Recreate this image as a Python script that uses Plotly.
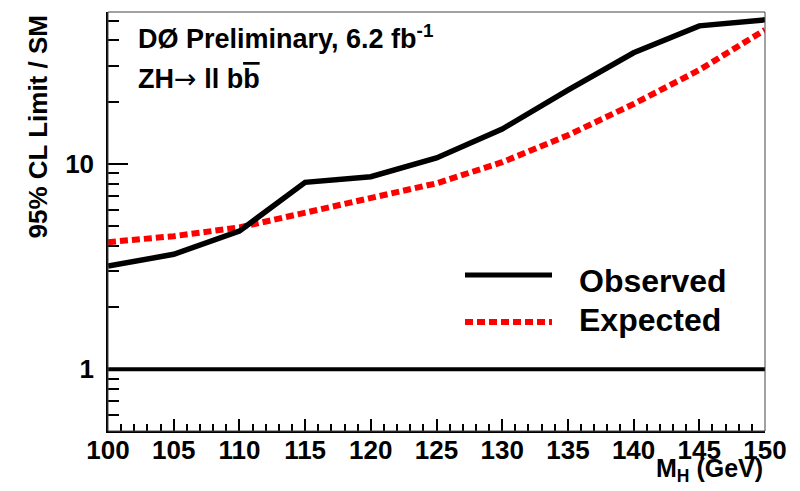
import plotly.graph_objects as go

# Higgs mass points (GeV) and 95% CL limits relative to the SM prediction
mass = [100, 105, 110, 115, 120, 125, 130, 135, 140, 145, 150]
observed = [3.18, 3.63, 4.71, 8.14, 8.67, 10.7, 14.8, 22.9, 34.8, 47.1, 50.4]
expected = [4.16, 4.45, 4.91, 5.79, 6.80, 8.05, 10.2, 13.8, 19.6, 28.7, 45.0]

x_major = list(range(100, 151, 5))
x_minor = list(range(100, 151, 1))
y_major = [1, 10]
y_major_text = ["1", "10"]
y_minor = [0.6, 0.7, 0.8, 0.9, 2, 3, 4, 5, 6, 7, 8, 9, 20, 30, 40, 50]
sm_line = [1, 1]

FONT = "Liberation Sans, Arial, Helvetica, sans-serif"
RED = "#ff0000"

fig = go.Figure()

# SM reference line at limit / SM = 1
fig.add_trace(go.Scatter(x=[mass[0], mass[-1]], y=sm_line, mode="lines",
                         line=dict(color="black", width=4), showlegend=False,
                         hoverinfo="skip"))
fig.add_trace(go.Scatter(x=mass, y=expected, mode="lines", name="Expected",
                         line=dict(color=RED, width=6, dash="8px,4px"),
                         showlegend=False))
fig.add_trace(go.Scatter(x=mass, y=observed, mode="lines", name="Observed",
                         line=dict(color="black", width=5.5), showlegend=False))

# Custom legend: line samples plus labels
fig.add_shape(type="line", xref="paper", yref="paper",
              x0=(465 - 108) / 657, x1=(552 - 108) / 657,
              y0=(431 - 275) / 419, y1=(431 - 275) / 419,
              line=dict(color="black", width=5))
fig.add_shape(type="line", xref="paper", yref="paper",
              x0=(465 - 108) / 657, x1=(552 - 108) / 657,
              y0=(431 - 322) / 419, y1=(431 - 322) / 419,
              line=dict(color=RED, width=6, dash="8px,4px"))

# Frame on top and right
fig.add_shape(type="rect", xref="paper", yref="paper", x0=0, x1=1, y0=0, y1=1,
              line=dict(color="#444444", width=1), layer="above")

ann_font = dict(family=FONT, color="black", weight="bold")
fig.add_annotation(text="Observed", xref="paper", yref="paper",
                   x=(577 - 108) / 657, y=(431 - 281) / 419,
                   xanchor="left", yanchor="middle", showarrow=False,
                   font=dict(size=32, **ann_font))
fig.add_annotation(text="Expected", xref="paper", yref="paper",
                   x=(577 - 108) / 657, y=(431 - 320) / 419,
                   xanchor="left", yanchor="middle", showarrow=False,
                   font=dict(size=32, **ann_font))
fig.add_annotation(text="DØ Preliminary, 6.2 fb<sup>-1</sup>", xref="paper", yref="paper",
                   x=(136 - 108) / 657, y=(431 - 37) / 419,
                   xanchor="left", yanchor="middle", showarrow=False,
                   font=dict(size=27, **ann_font))
fig.add_annotation(text="ZH<span style='font-family:DejaVu Sans;font-weight:normal'>\u2192</span> ll "
                        "b<span style='text-decoration:overline'>b</span>",
                   xref="paper", yref="paper",
                   x=(136 - 108) / 657, y=(431 - 78) / 419,
                   xanchor="left", yanchor="middle", showarrow=False,
                   font=dict(size=27, **ann_font))
fig.add_annotation(text="95% CL Limit / SM", xref="paper", yref="paper",
                   x=(37 - 108) / 657, y=(431 - 14) / 419, textangle=-90,
                   xanchor="center", yanchor="top", showarrow=False,
                   font=dict(size=26, **ann_font))
fig.add_annotation(text="M<sub>H</sub> (GeV)", xref="paper", yref="paper",
                   x=1.0, y=(431 - 470) / 419,
                   xanchor="right", yanchor="middle", showarrow=False,
                   font=dict(size=25, **ann_font))

fig.update_xaxes(range=[100, 150], tickmode="array", tickvals=x_major,
                 ticks="inside", ticklen=12, tickwidth=1.5, tickcolor="black",
                 showline=True, linecolor="black", linewidth=1.5,
                 showgrid=False, zeroline=False, ticklabelstandoff=-5,
                 tickfont=dict(family=FONT, size=26, color="black", weight="bold"),
                 minor=dict(tickmode="array", tickvals=x_minor, ticks="inside",
                            ticklen=7, tickwidth=1.5, tickcolor="black", showgrid=False))
fig.update_yaxes(type="log", range=[-0.301, 1.7405], tickmode="array",
                 tickvals=y_major, ticktext=y_major_text,
                 ticks="inside", ticklen=20, tickwidth=1.5, tickcolor="black",
                 showline=True, linecolor="black", linewidth=1.5,
                 showgrid=False, zeroline=False, ticklabelstandoff=7,
                 tickfont=dict(family=FONT, size=26, color="black", weight="bold"),
                 minor=dict(tickmode="array", tickvals=y_minor, ticks="inside",
                            ticklen=11, tickwidth=1.5, tickcolor="black", showgrid=False))

fig.update_layout(width=800, height=491, margin=dict(l=108, r=35, t=12, b=60),
                  paper_bgcolor="white", plot_bgcolor="white", showlegend=False,
                  font=dict(family=FONT))

fig.write_html("out.html")
